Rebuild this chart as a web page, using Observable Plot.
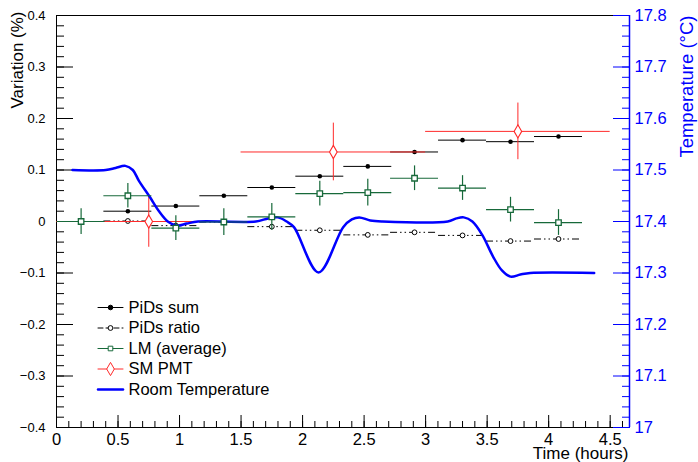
<!DOCTYPE html>
<html><head><meta charset="utf-8">
<script src="https://cdn.jsdelivr.net/npm/d3@7"></script>
<script src="https://cdn.jsdelivr.net/npm/@observablehq/plot@0.6"></script>
<style>
body{margin:0;background:#fff;}
#chart svg{display:block;}
</style>
</head><body><div id="chart"></div>
<script>
// ---- data ----
const binTimes = [0.2, 0.58, 0.97, 1.36, 1.75, 2.14, 2.53, 2.91, 3.3, 3.69, 4.08];
const binHalfWidth = 0.195;
const pidsSum = [0, 0.02, 0.03, 0.05, 0.066, 0.088, 0.107, 0.135, 0.158, 0.155, 0.165];
const pidsRatio = [0, 0.001, -0.008, -0.001, -0.01, -0.017, -0.026, -0.021, -0.027, -0.038, -0.034];
const lmAverage = [0, 0.05, -0.013, -0.001, 0.009, 0.054, 0.056, 0.084, 0.065, 0.023, -0.002];
const lmError = [0.025, 0.024, 0.024, 0.026, 0.026, 0.024, 0.026, 0.024, 0.024, 0.024, 0.025];
const pmtTimes = [0.75, 2.25, 3.75];
const pmtHalfWidth = 0.75;
const pmtValues = [0, 0.135, 0.175];
const pmtError = [0.05, 0.056, 0.055];
const tempTimes = [0.13, 0.40, 0.48, 0.56, 0.62, 0.67, 0.76, 0.83, 0.91, 0.98, 1.06, 1.15, 1.62, 1.72, 1.80, 1.87, 1.93, 2.13, 2.33, 2.40, 2.46, 2.55, 2.65, 3.18, 3.25, 3.31, 3.38, 3.46, 3.55, 3.62, 3.69, 3.77, 3.85, 4.37];
const tempValues = [17.500, 17.500, 17.504, 17.508, 17.500, 17.479, 17.447, 17.421, 17.399, 17.392, 17.396, 17.400, 17.400, 17.406, 17.408, 17.400, 17.389, 17.301, 17.389, 17.404, 17.408, 17.402, 17.400, 17.400, 17.406, 17.408, 17.400, 17.374, 17.331, 17.305, 17.293, 17.297, 17.300, 17.300];
const legendLabels = ["PiDs sum", "PiDs ratio", "LM (average)", "SM PMT", "Room Temperature"];
const yTicks = [-0.4, -0.3, -0.2, -0.1, 0, 0.1, 0.2, 0.3, 0.4];
const xTicks = [0, 0.5, 1, 1.5, 2, 2.5, 3, 3.5, 4, 4.5];
const tempTicks = [17, 17.1, 17.2, 17.3, 17.4, 17.5, 17.6, 17.7, 17.8];
const tempOffset = 17.4; // right axis 17..17.8 shares the -0.4..0.4 range
const xMax = 4.657;

// ---- derived tables ----
const bins = binTimes.map((t, i) => ({t, sum: pidsSum[i], ratio: pidsRatio[i], lm: lmAverage[i], lmErr: lmError[i]}));
const pmt = pmtTimes.map((t, i) => ({t, v: pmtValues[i], e: pmtError[i]}));
const temp = tempTimes.map((t, i) => ({t, v: tempValues[i] - tempOffset}));
const toY = T => Math.round((T - tempOffset) * 1000) / 1000;
const yMinor = d3.range(-20, 21).map(k => k * 0.02);
const xMinor = d3.range(0, 47).map(k => k * 0.1);
const tempMinor = d3.range(0, 41).map(k => toY(17 + k * 0.02));

const GREEN = "#17693a", RED = "#ff2a2a", BLUE = "#0000ff";
const fmtY = d => d === 0 ? "0" : (d < 0 ? "\u2212" : "") + Math.abs(d).toFixed(1);
const hLine = {draw(ctx, l) { ctx.moveTo(-l / 2, 0); ctx.lineTo(l / 2, 0); }};

const legendStyles = [
  {stroke: "black", dash: null, symbol: "circle", r: 2.3, fill: "black", sStroke: "black", width: 1},
  {stroke: "black", dash: "5,3", symbol: "circle", r: 2.4, fill: "white", sStroke: "black", width: 1},
  {stroke: GREEN, dash: null, symbol: "square", r: 2.6, fill: "white", sStroke: GREEN, width: 1.2},
  {stroke: RED, dash: null, symbol: "diamond", r: 4, fill: "white", sStroke: RED, width: 1},
  {stroke: BLUE, dash: null, symbol: null, width: 2.5}
];
const legendMarks = legendLabels.flatMap((lab, i) => {
  const s = legendStyles[i];
  const dy = 292 + 20.5 * i;
  const m = [
    Plot.vector([0], {frameAnchor: "top-left", dx: 54, dy, length: 25, anchor: "start", shape: hLine, stroke: s.stroke, strokeWidth: s.width, strokeDasharray: s.dash}),
    Plot.text([lab], {text: d => d, frameAnchor: "top-left", lineAnchor: "middle", dx: 72, dy, textAnchor: "start", fontSize: 16.5, fill: "black"})
  ];
  if (s.symbol) m.push(Plot.dot([0], {frameAnchor: "top-left", dx: 54, dy, r: s.r, symbol: s.symbol, fill: s.fill, stroke: s.sStroke, strokeWidth: 1}));
  return m;
});

const chart = Plot.plot({
  width: 698, height: 462,
  marginLeft: 56, marginRight: 69, marginTop: 15, marginBottom: 35,
  style: {fontFamily: "'Liberation Sans', Arial, Helvetica, sans-serif", background: "white", color: "black"},
  x: {domain: [0, xMax], axis: null},
  y: {domain: [-0.4, 0.4], axis: null},
  marks: [
    Plot.frame({stroke: "black", strokeWidth: 1}),
    // left axis (inward ticks)
    Plot.axisY({anchor: "left", ticks: yMinor, tickSize: -8, tickFormat: () => "", label: null}),
    Plot.axisY({anchor: "left", ticks: yTicks, tickSize: -17, tickFormat: () => "", label: null}),
    Plot.axisY({anchor: "left", ticks: yTicks, tickSize: 0, tickPadding: 11, fontSize: 13, tickFormat: fmtY, label: null}),
    // bottom axis
    Plot.axisX({anchor: "bottom", ticks: xMinor, tickSize: -6, tickFormat: () => "", label: null}),
    Plot.axisX({anchor: "bottom", ticks: xTicks, tickSize: -12, tickFormat: () => "", label: null}),
    Plot.axisX({anchor: "bottom", ticks: xTicks, tickSize: 0, tickPadding: 6, fontSize: 16.5, tickFormat: d => String(d), label: null}),
    // PiDs ratio
    Plot.ruleY(bins, {y: "ratio", x1: d => d.t - binHalfWidth, x2: d => d.t + binHalfWidth, stroke: "black", strokeWidth: 1, strokeDasharray: "7,3,1.5,3,1.5,3"}),
    // PiDs sum
    Plot.ruleY(bins, {y: "sum", x1: d => d.t - binHalfWidth, x2: d => d.t + binHalfWidth, stroke: "black", strokeWidth: 1}),
    Plot.dot(bins, {x: "t", y: "sum", r: 2.3, fill: "black"}),
    Plot.dot(bins, {x: "t", y: "ratio", r: 2.4, fill: "white", stroke: "black", strokeWidth: 1}),
    // SM PMT
    Plot.ruleY(pmt, {y: "v", x1: d => d.t - pmtHalfWidth, x2: d => d.t + pmtHalfWidth, stroke: RED, strokeWidth: 1}),
    Plot.ruleX(pmt, {x: "t", y1: d => d.v - d.e, y2: d => d.v + d.e, stroke: RED, strokeWidth: 1}),
    Plot.dot(pmt, {x: "t", y: "v", symbol: "diamond", r: 4, fill: "white", stroke: RED, strokeWidth: 1.1}),
    // room temperature
    Plot.line(temp, {x: "t", y: "v", stroke: BLUE, strokeWidth: 2.5, curve: "catmull-rom"}),
    // LM average
    Plot.ruleY(bins, {y: "lm", x1: d => d.t - binHalfWidth, x2: d => d.t + binHalfWidth, stroke: GREEN, strokeWidth: 1.2}),
    Plot.ruleX(bins, {x: "t", y1: d => d.lm - d.lmErr, y2: d => d.lm + d.lmErr, stroke: GREEN, strokeWidth: 1.2}),
    Plot.dot(bins, {x: "t", y: "lm", symbol: "square", r: 3.1, fill: "white", stroke: GREEN, strokeWidth: 1.3}),
    // right temperature axis
    Plot.ruleX([xMax], {stroke: BLUE, strokeWidth: 1.5}),
    Plot.axisY({anchor: "right", ticks: tempMinor, tickSize: -8, tickFormat: () => "", label: null, color: BLUE, stroke: BLUE}),
    Plot.axisY({anchor: "right", ticks: tempTicks.map(toY), tickSize: -17, tickFormat: () => "", label: null, color: BLUE, stroke: BLUE}),
    Plot.axisY({anchor: "right", ticks: tempTicks.map(toY), tickSize: 0, tickPadding: 5, fontSize: 16.5, label: null, color: BLUE, fill: BLUE,
      tickFormat: d => String(Math.round((d + tempOffset) * 10) / 10)}),
    // axis titles
    Plot.text(["Variation (%)"], {text: d => d, frameAnchor: "top-left", dx: -46, dy: -4, rotate: -90, textAnchor: "end", fontSize: 17, fill: "black"}),
    Plot.text(["Temperature (\u00B0C)"], {text: d => d, frameAnchor: "top-right", dx: 50, dy: 0, rotate: -90, textAnchor: "end", fontSize: 18.5, fill: BLUE}),
    Plot.text(["Time (hours)"], {text: d => d, frameAnchor: "bottom-right", lineAnchor: "middle", dx: -1, dy: 26, textAnchor: "end", fontSize: 17, fill: "black"}),
    ...legendMarks
  ]
});
document.getElementById("chart").appendChild(chart);
</script>
</body></html>
